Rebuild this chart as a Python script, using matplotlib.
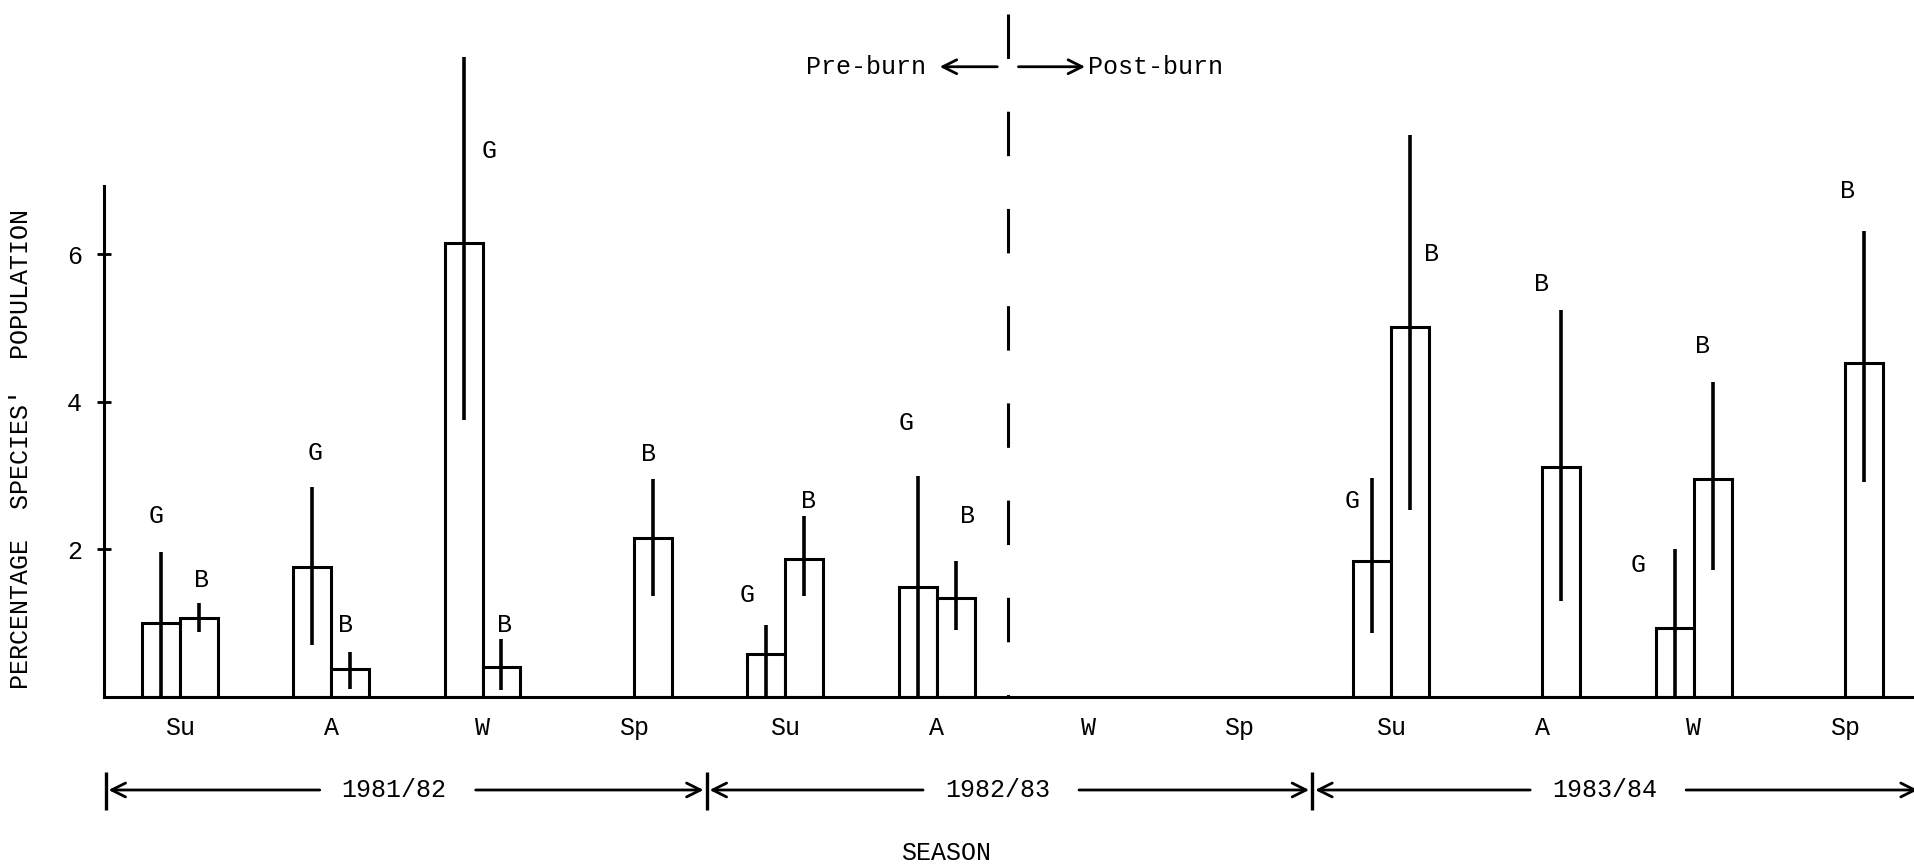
import numpy as np
import matplotlib
matplotlib.use("Agg")
import matplotlib.pyplot as plt

plt.rcParams["font.family"] = ["Liberation Mono", "DejaVu Sans Mono"]
plt.rcParams["lines.scale_dashes"] = False

# ---- data ----
nan = np.nan
SEASONS = ["Su", "A", "W", "Sp", "Su", "A", "W", "Sp", "Su", "A", "W", "Sp"]
YEARS = ["1981/82", "1982/83", "1983/84"]

# G series: mean and the ends of its range bar
G_MEAN = np.array([1.00, 1.76, 6.15, nan, 0.58, 1.49, nan, nan, 1.84, nan, 0.93, nan])
G_LOW = np.array([0.00, 0.70, 3.75, nan, 0.00, 0.00, nan, nan, 0.87, nan, 0.00, nan])
G_HIGH = np.array([1.96, 2.84, 8.67, nan, 0.98, 2.99, nan, nan, 2.97, nan, 2.00, nan])

# B series
B_MEAN = np.array([1.07, 0.38, 0.41, 2.16, 1.87, 1.34, nan, nan, 5.02, 3.12, 2.95, 4.52])
B_LOW = np.array([0.88, 0.11, 0.09, 1.37, 1.37, 0.91, nan, nan, 2.54, 1.30, 1.72, 2.92])
B_HIGH = np.array([1.28, 0.61, 0.78, 2.95, 2.45, 1.84, nan, nan, 7.62, 5.24, 4.27, 6.31])

# where the G / B letters sit, as offsets from the top of each range bar
G_LABEL_OFF = {0: (-0.03, 0.49), 1: (0.02, 0.47), 2: (0.17, -1.27), 4: (-0.13, 0.40),
               5: (-0.08, 0.72), 8: (-0.13, -0.31), 10: (-0.24, -0.21)}
B_LABEL_OFF = {0: (0.02, 0.31), 1: (-0.03, 0.37), 2: (0.02, 0.20), 3: (-0.03, 0.34),
               4: (0.03, 0.21), 5: (0.08, 0.61), 8: (0.14, -1.62), 9: (-0.13, 0.35),
               10: (-0.07, 0.49), 11: (-0.11, 0.54)}

FS = 18
LW = 2.2

fig = plt.figure(figsize=(19.15, 8.66), dpi=100)
ax = fig.add_axes([104 / 1915, 169 / 866, 1 - 104 / 1915, 697 / 866])
ax.set_xlim(-0.5, -0.5 + 1811 / 151.4)
ax.set_ylim(0, 697 / 73.8)

x = np.arange(len(SEASONS))
bw = 0.25


def draw_series(xs, mean, lo, hi, letter, offsets):
    m = ~np.isnan(mean)
    ax.bar(xs[m], mean[m], width=bw, color="white", edgecolor="black",
           linewidth=LW, zorder=2)
    ax.errorbar(xs[m], mean[m], yerr=[mean[m] - lo[m], hi[m] - mean[m]],
                fmt="none", ecolor="black", elinewidth=2.6, capsize=0, zorder=3)
    for i, (dx, dy) in offsets.items():
        ax.text(xs[i] + dx, hi[i] + dy, letter, ha="center", va="center",
                fontsize=FS)


draw_series(x - bw / 2, G_MEAN, G_LOW, G_HIGH, "G", G_LABEL_OFF)
draw_series(x + bw / 2, B_MEAN, B_LOW, B_HIGH, "B", B_LABEL_OFF)

# axes styling
for s in ["top", "right"]:
    ax.spines[s].set_visible(False)
ax.spines["left"].set_bounds(0, 6.92)
ax.spines["left"].set_linewidth(LW)
ax.spines["bottom"].set_linewidth(LW)
ax.set_xticks(x, SEASONS)
ax.tick_params(axis="x", length=0, pad=14, labelsize=FS)
ax.set_yticks([2, 4, 6])
ax.tick_params(axis="y", direction="inout", length=10, width=2, pad=11,
               labelsize=FS)

# burn divider
burn_x = 5.47
ax.plot([burn_x, burn_x], [9.26, 0], color="black", lw=LW,
        linestyle=(0, (32, 38)), zorder=1)
arrow = dict(arrowstyle="->,head_length=0.5,head_width=0.25", lw=2,
             color="black", shrinkA=0, shrinkB=0, mutation_scale=20)
yb = 8.54
ax.text(burn_x - 0.54, yb, "Pre-burn", ha="right", va="center", fontsize=FS)
ax.annotate("", xy=(burn_x - 0.45, yb), xytext=(burn_x - 0.07, yb), arrowprops=arrow)
ax.annotate("", xy=(burn_x + 0.51, yb), xytext=(burn_x + 0.07, yb), arrowprops=arrow)
ax.text(burn_x + 0.53, yb, "Post-burn", ha="left", va="center", fontsize=FS)

# year spans under the season labels
bounds = [-0.49, 3.48, 7.48, 11.5]
ya = -1.26
for k, yr in enumerate(YEARS):
    a, b = bounds[k], bounds[k + 1]
    c = (a + b) / 2 - 0.08
    ax.text(c, ya, yr, ha="center", va="center", fontsize=FS)
    ax.annotate("", xy=(a + 0.02, ya), xytext=(c - 0.49, ya), arrowprops=arrow,
                annotation_clip=False)
    ax.annotate("", xy=(b - 0.02, ya), xytext=(c + 0.54, ya), arrowprops=arrow,
                annotation_clip=False)
ax.vlines(bounds[:3], -1.02, -1.53, color="black", lw=2.4, clip_on=False)

ax.text(5.06, -2.11, "SEASON", ha="center", va="center", fontsize=FS)
fig.text(21 / 1915, 1 - 449 / 866, "PERCENTAGE  SPECIES'  POPULATION",
         rotation=90, ha="center", va="center", fontsize=FS)

fig.savefig("out.png", dpi=100)
